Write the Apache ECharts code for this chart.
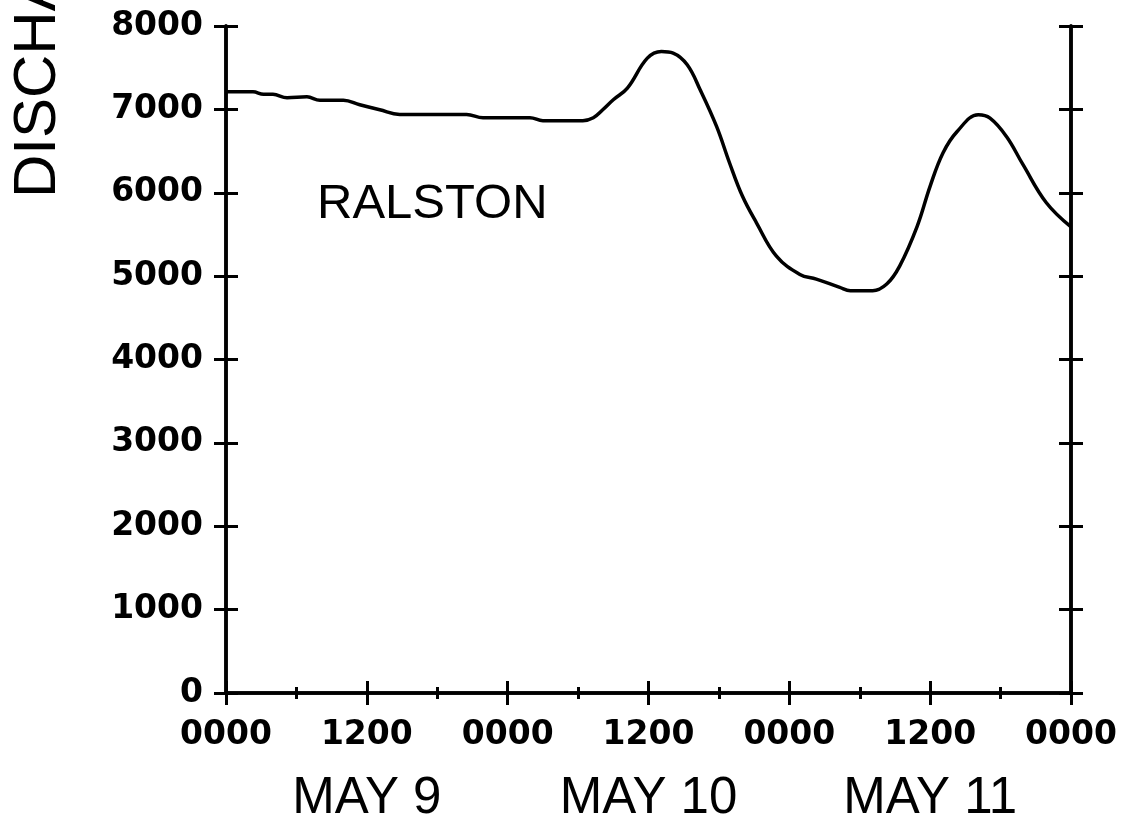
<!DOCTYPE html>
<html>
<head>
<meta charset="utf-8">
<script src="https://cdn.jsdelivr.net/npm/echarts@6/dist/echarts.min.js"></script>
<style>
    html, body { margin: 0; padding: 0; background: #fff; }
    #cn { width: 1129px; height: 824px; }
</style>
</head>
<body>
<div id="cn"></div>
<script>
'use strict';

// hours since 0000 May 9
const arrHour = [0, 2.3, 3.2, 4, 5.2, 6.9, 8, 10, 11.4, 13.1, 14.8, 20.5, 21.9, 25.9, 27, 30.4, 31.3, 32.1, 33, 34.2,
    35.9, 37.1, 38.1, 39.3, 40.4, 41.8, 42.9, 44, 45.2, 46.9, 48.9, 50.3, 52.3, 53.2, 55.1, 56.3, 57.4, 58.9, 60,
    61.1, 62.3, 64.1, 65.1, 66.5, 67.9, 69.9, 72];
const arrFlow = [7210, 7210, 7180, 7180, 7140, 7150, 7110, 7110, 7055, 6995, 6940, 6940, 6900, 6900, 6865, 6865, 6900, 6995, 7115, 7255,
    7615, 7695, 7675, 7535, 7235, 6795, 6360, 5960, 5640, 5240, 5020, 4965, 4865, 4825, 4825, 4905, 5120, 5600, 6080,
    6480, 6735, 6935, 6895, 6675, 6340, 5880, 5590];

const arrTimeLabel = ['0000', '1200', '0000', '1200', '0000', '1200', '0000'];
const arrDayHour = [12, 36, 60];
const arrDayLabel = ['MAY 9', 'MAY 10', 'MAY 11'];

const strStation = 'RALSTON';
const strYName = 'DISCHARGE';

const numFont = 'DejaVu Sans';
const txtFont = 'Liberation Sans';

const lineAxis = { show: true, onZero: false, lineStyle: { color: '#000', width: 3.5 } };
const styleTick = { color: '#000', width: 3 };

// ticks cross the axis line: one axis draws them outside, a twin draws them inside
const yAxisBase = (pos, inside, label) => ({
    type: 'value',
    position: pos,
    offset: 0,
    min: 0,
    max: 8000,
    interval: 1000,
    axisLine: lineAxis,
    axisTick: { show: true, inside: inside, length: 12, lineStyle: styleTick },
    axisLabel: label ? {
        show: true,
        margin: 23,
        color: '#000',
        fontFamily: numFont,
        fontWeight: 'bold',
        fontSize: 33,
        formatter: (v) => String(v) // no thousands comma
    } : { show: false },
    splitLine: { show: false }
});

const xAxisBase = (inside) => ({
    type: 'value',
    position: 'bottom',
    offset: 0,
    min: 0,
    max: 72,
    interval: 12,
    axisLine: lineAxis,
    axisTick: { show: true, inside: inside, length: 12, lineStyle: styleTick },
    minorTick: { show: true, splitNumber: 2, length: 6, lineStyle: styleTick },
    splitLine: { show: false },
    minorSplitLine: { show: false }
});

const optionChart = {
    backgroundColor: '#fff',
    animation: false,
    grid: {
        left: 226,
        right: 58,
        top: 26,
        bottom: 130
    },
    xAxis: [
        Object.assign(xAxisBase(false), {
            axisLabel: {
                margin: 26,
                color: '#000',
                fontFamily: numFont,
                fontWeight: 'bold',
                fontSize: 33,
                formatter: (v) => arrTimeLabel[Math.round(v / 12)]
            }
        }),
        // inside half of the ticks, also carries the day labels
        Object.assign(xAxisBase(true), {
            axisLabel: {
                margin: 80,
                color: '#000',
                fontFamily: txtFont,
                fontSize: 51,
                customValues: arrDayHour,
                formatter: (v) => arrDayLabel[arrDayHour.indexOf(v)]
            }
        })
    ],
    yAxis: [
        yAxisBase('left', false, true),
        yAxisBase('left', true, false),
        yAxisBase('right', false, false),
        yAxisBase('right', true, false)
    ],
    graphic: [{
            type: 'text',
            x: 317,
            y: 204,
            style: {
                text: strStation,
                fill: '#000',
                font: `49px "${txtFont}"`,
                textAlign: 'left',
                textVerticalAlign: 'middle'
            }
        },
        {
            type: 'text',
            x: 38,
            y: 198,
            rotation: Math.PI / 2,
            style: {
                text: strYName,
                fill: '#000',
                font: `60px "${txtFont}"`,
                textAlign: 'left',
                textVerticalAlign: 'middle'
            }
        }
    ],
    series: [{
        type: 'line',
        data: arrHour.map((h, i) => [h, arrFlow[i]]),
        smooth: 0.4,
        symbol: 'none',
        lineStyle: { color: '#000', width: 3.5 },
        z: 1
    }]
};

const echartsFlow = echarts.init(document.getElementById('cn'));
echartsFlow.setOption(optionChart);
</script>
</body>
</html>
